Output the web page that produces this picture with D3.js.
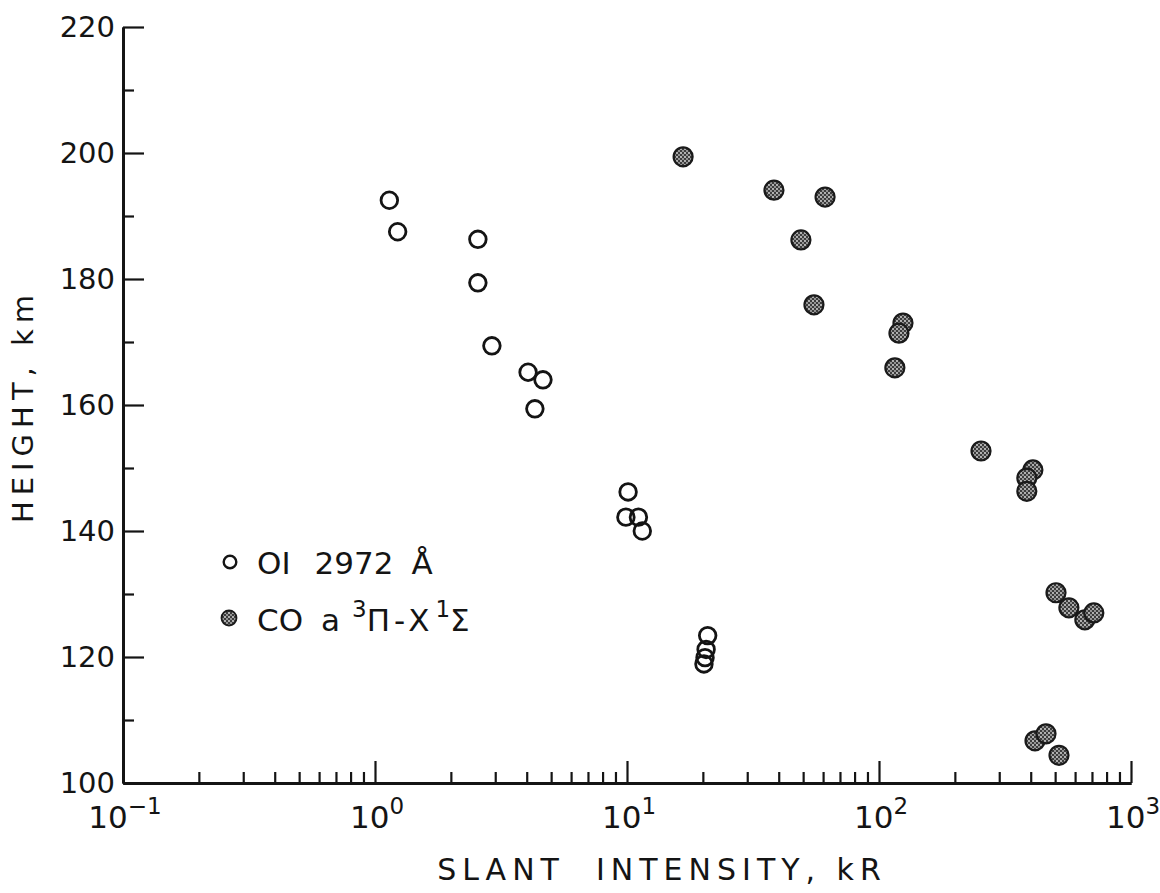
<!DOCTYPE html>
<html>
<head>
<meta charset="utf-8">
<script src="https://cdn.jsdelivr.net/npm/d3@7"></script>
<style>
  html, body { margin: 0; padding: 0; background: #fff; }
  svg { display: block; }
  text { font-family: "DejaVu Sans", sans-serif; fill: #141414; }
</style>
</head>
<body>
<script>
// ---- data ----
const oiIntensity = [1.14, 1.23, 2.56, 2.56, 2.91, 4.05, 4.64, 4.31, 10.1, 9.9, 11.1, 11.5, 20.9, 20.6, 20.4, 20.2];
const oiHeight    = [192.5, 187.5, 186.3, 179.4, 169.4, 165.2, 164.0, 159.4, 146.2, 142.2, 142.2, 140.0, 123.4, 121.2, 119.9, 118.9];

const coIntensity = [16.7, 38.3, 61.1, 49.0, 55.2, 124.5, 120, 115.6, 254, 408, 386, 386, 504, 567, 656, 712, 416, 460, 518];
const coHeight    = [199.4, 194.1, 193.0, 186.2, 175.9, 173.0, 171.4, 165.9, 152.7, 149.7, 148.4, 146.3, 130.2, 127.8, 125.9, 127.0, 106.7, 107.8, 104.4];

const xMajorTicks = [0.1, 1, 10, 100, 1000];
const xExponents  = ["\u22121", "0", "1", "2", "3"];
const yMajorTicks = [100, 120, 140, 160, 180, 200, 220];
const yMinorTicks = [110, 130, 150, 170, 190, 210];

const xTitle = "SLANT  INTENSITY, kR";
const yTitle = "HEIGHT, km";
const legendOI = ["OI", "2972", "\u00C5"];

// ---- layout ----
const W = 1160, H = 893;
const svg = d3.select("body").append("svg").attr("width", W).attr("height", H);

const x = d3.scaleLog().domain([0.1, 1000]).range([123, 1131]);
const y = d3.scaleLinear().domain([100, 220]).range([783, 27]);

const ink = "#141414";

// stipple pattern for filled markers
const defs = svg.append("defs");
const pat = defs.append("pattern").attr("id", "stip")
  .attr("patternUnits", "userSpaceOnUse").attr("width", 4).attr("height", 4);
pat.append("rect").attr("width", 4).attr("height", 4).attr("fill", "#3c3c3c");
pat.append("circle").attr("cx", 1).attr("cy", 1).attr("r", 0.9).attr("fill", "#e8e8e8");
pat.append("circle").attr("cx", 3).attr("cy", 3).attr("r", 0.9).attr("fill", "#bdbdbd");

// minor x ticks
const xMinor = [];
for (let e = -1; e < 3; e++) for (let m = 2; m <= 9; m++) xMinor.push(m * Math.pow(10, e));

const gxMinor = svg.append("g").attr("transform", `translate(0,${y(100)})`)
  .call(d3.axisBottom(x).tickValues(xMinor).tickSize(-11).tickSizeOuter(0).tickFormat(""));
const gx = svg.append("g").attr("transform", `translate(0,${y(100)})`)
  .call(d3.axisBottom(x).tickValues(xMajorTicks).tickSize(-22).tickSizeOuter(0).tickFormat(""));

const gyMinor = svg.append("g").attr("transform", `translate(${x(0.1)},0)`)
  .call(d3.axisLeft(y).tickValues(yMinorTicks).tickSize(-11).tickSizeOuter(0).tickFormat(""));
const gy = svg.append("g").attr("transform", `translate(${x(0.1)},0)`)
  .call(d3.axisLeft(y).tickValues(yMajorTicks).tickSize(-21).tickSizeOuter(0).tickPadding(8)
        .tickFormat(d3.format("d")));

[gx, gxMinor, gy, gyMinor].forEach(g => {
  g.selectAll("path.domain").attr("stroke", ink).attr("stroke-width", 2.8);
  g.selectAll(".tick line").attr("stroke", ink).attr("stroke-width", 2.2);
});
gy.selectAll(".tick text").attr("font-size", 29).attr("fill", ink)
  .style("font-family", "DejaVu Sans");

// x tick labels with superscripts
xMajorTicks.forEach((v, i) => {
  const t = svg.append("text")
    .attr("x", x(v) + 2).attr("y", 828)
    .attr("text-anchor", "middle").attr("font-size", 31);
  t.append("tspan").text("10");
  t.append("tspan").attr("font-size", 23).attr("dy", -14).text(xExponents[i]);
});

// axis titles
svg.append("text").attr("x", 662).attr("y", 880).attr("text-anchor", "middle")
  .attr("font-size", 30).attr("letter-spacing", 6).style("white-space", "pre")
  .attr("xml:space", "preserve").text(xTitle);
svg.append("text").attr("transform", "translate(33,406) rotate(-90)")
  .attr("text-anchor", "middle").attr("font-size", 29).attr("letter-spacing", 6)
  .text(yTitle);

// data points
const oi = oiIntensity.map((v, i) => ({ v, h: oiHeight[i] }));
const co = coIntensity.map((v, i) => ({ v, h: coHeight[i] }));

svg.append("g").selectAll("circle").data(co).join("circle")
  .attr("cx", d => x(d.v)).attr("cy", d => y(d.h)).attr("r", 9.5)
  .attr("fill", "url(#stip)").attr("stroke", "#1a1a1a").attr("stroke-width", 2.2);

svg.append("g").selectAll("circle").data(oi).join("circle")
  .attr("cx", d => x(d.v)).attr("cy", d => y(d.h)).attr("r", 8.3)
  .attr("fill", "none").attr("stroke", ink).attr("stroke-width", 2.8);

// legend
svg.append("circle").attr("cx", 230).attr("cy", 562).attr("r", 6.3)
  .attr("fill", "none").attr("stroke", ink).attr("stroke-width", 2.4);
svg.append("circle").attr("cx", 229).attr("cy", 618).attr("r", 7.5)
  .attr("fill", "url(#stip)").attr("stroke", "#1a1a1a").attr("stroke-width", 1.8);

const l1 = svg.append("text").attr("x", 257).attr("y", 574).attr("font-size", 31);
l1.append("tspan").text(legendOI[0]);
l1.append("tspan").attr("dx", 24).text(legendOI[1]);
l1.append("tspan").attr("dx", 18).text(legendOI[2]);

const l2 = svg.append("text").attr("x", 257).attr("y", 631).attr("font-size", 31);
l2.append("tspan").text("CO");
l2.append("tspan").attr("dx", 18).text("a");
l2.append("tspan").attr("dx", 12).attr("dy", -14).attr("font-size", 23).text("3");
l2.append("tspan").attr("dy", 14).text("\u03A0");
l2.append("tspan").attr("dx", 4).text("-");
l2.append("tspan").attr("dx", 3).text("X");
l2.append("tspan").attr("dx", 6).attr("dy", -14).attr("font-size", 23).text("1");
l2.append("tspan").attr("dy", 14).text("\u03A3");
</script>
</body>
</html>
